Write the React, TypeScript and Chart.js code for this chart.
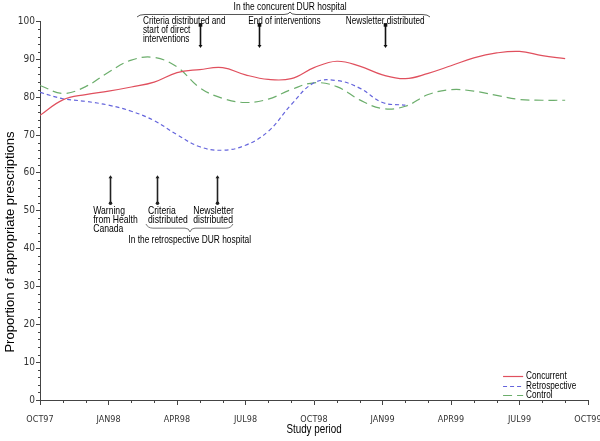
import React, { useEffect, useRef } from "react";
import { Chart, registerables } from "chart.js";

Chart.register(...registerables);

// Study months: 0 = OCT97 ... 24 = OCT99
const TICK_LABELS = ["OCT97", "JAN98", "APR98", "JUL98", "OCT98", "JAN99", "APR99", "JUL99", "OCT99"];
const SERIES_NAMES = ["Concurrent", "Retrospective", "Control"];
const CONCURRENT = [75.2, 79.3, 80.7, 81.6, 82.7, 84.0, 86.5, 87.3, 87.8, 85.9, 84.7, 84.9, 87.8, 89.5, 88.2, 85.9, 84.9, 86.3, 88.3, 90.4, 91.7, 92.1, 91.0, 90.2];
const RETROSPECTIVE = [81.3, 79.6, 78.9, 77.9, 76.3, 73.8, 70.1, 66.9, 66.0, 67.3, 71.0, 78.0, 83.8, 84.4, 82.4, 78.6, 77.9];
const CONTROL = [83.1, 81.0, 82.8, 86.6, 89.8, 90.5, 88.0, 82.5, 79.7, 78.6, 79.5, 82.0, 83.8, 82.8, 79.3, 77.0, 77.6, 80.7, 82.0, 81.6, 80.5, 79.4, 79.2, 79.2];

const Y_TITLE = "Proportion of appropriate prescriptions";
const X_TITLE = "Study period";

// Event annotations (positions in study months / axis values)
const TOP_GROUP = { label: "In the concurent DUR hospital", from: 4.25, to: 17.08, mid: 10.95 };
const TOP_EVENTS = [
  { arrow: 7.01, textAt: 4.51, lines: ["Criteria distributed and", "start of direct", "interventions"] },
  { arrow: 9.59, textAt: 9.12, lines: ["End of interventions"] },
  { arrow: 15.12, textAt: 13.39, lines: ["Newsletter distributed"] },
];
const BOTTOM_GROUP = { label: "In the retrospective DUR hospital", from: 4.64, to: 8.45, mid: 6.57, textAt: 3.87 };
const BOTTOM_EVENTS = [
  { arrow: 3.07, textAt: 2.33, lines: ["Warning", "from Health", "Canada"] },
  { arrow: 5.11, textAt: 4.73, lines: ["Criteria", "distributed"] },
  { arrow: 7.74, textAt: 6.71, lines: ["Newsletter", "distributed"] },
];

const COLORS = ["#e0505e", "#6464dc", "#6cae6c"];
const DASHES = [[], [4, 3], [9, 5]];
const AXIS_COLOR = "#444";
const FONT = '"Liberation Sans", Arial, sans-serif';
const TICK_FONT = '"Liberation Sans Narrow", "DejaVu Sans Condensed", "Liberation Sans", sans-serif';

function drawText(ctx: CanvasRenderingContext2D, s: string, x: number, y: number, size: number, align: CanvasTextAlign = "left", squeeze = 0.82) {
  ctx.font = `${size}px ${FONT}`;
  const w = ctx.measureText(s).width * squeeze;
  ctx.textAlign = align;
  ctx.textBaseline = "middle";
  ctx.fillText(s, x, y, w);
}

function seg(ctx: CanvasRenderingContext2D, x1: number, y1: number, x2: number, y2: number) {
  ctx.beginPath();
  ctx.moveTo(x1, y1);
  ctx.lineTo(x2, y2);
  ctx.stroke();
}

const decorPlugin = {
  id: "decor",
  afterDraw(chart: any) {
    const { ctx, chartArea: ca } = chart;
    const xs = chart.scales.x;
    const ys = chart.scales.y;
    const px = (m: number) => xs.getPixelForValue(m);
    const py = (v: number) => ys.getPixelForValue(v);
    ctx.save();

    // minor ticks
    ctx.strokeStyle = AXIS_COLOR;
    ctx.lineWidth = 1;
    ctx.setLineDash([]);
    for (let v = 0; v <= 100; v += 2) {
      if (v % 10 === 0) continue;
      const y = Math.round(py(v)) + 0.5;
      seg(ctx, ca.left - 2, y, ca.left, y);
    }
    for (let m = 0; m <= 24; m++) {
      if (m % 3 === 0) continue;
      const x = Math.round(px(m)) + 0.5;
      seg(ctx, x, ca.bottom, x, ca.bottom + 3);
    }

    // axis titles
    ctx.fillStyle = "#000";
    ctx.save();
    ctx.translate(10, 242);
    ctx.rotate(-Math.PI / 2);
    ctx.font = `13px ${FONT}`;
    ctx.textAlign = "center";
    ctx.textBaseline = "middle";
    ctx.fillText(Y_TITLE, 0, 0, 239);
    ctx.restore();
    drawText(ctx, X_TITLE, (ca.left + ca.right) / 2, 430, 12, "center", 0.82);

    // top group
    ctx.fillStyle = "#000";
    drawText(ctx, TOP_GROUP.label, px(TOP_GROUP.mid), py(103.8), 11, "center", 0.77);
    ctx.strokeStyle = "#555";
    ctx.lineWidth = 1;
    {
      const a = px(TOP_GROUP.from), b = px(TOP_GROUP.to), c = px(TOP_GROUP.mid);
      const yl = py(101.85), ye = py(101.2), yc = py(102.5);
      ctx.beginPath();
      ctx.moveTo(a, ye);
      ctx.quadraticCurveTo(a + 2, yl, a + 8, yl);
      ctx.lineTo(c - 6, yl);
      ctx.quadraticCurveTo(c - 1, yl, c, yc);
      ctx.quadraticCurveTo(c + 1, yl, c + 6, yl);
      ctx.lineTo(b - 8, yl);
      ctx.quadraticCurveTo(b - 2, yl, b, ye);
      ctx.stroke();
    }
    const lineVals = [100.1, 97.7, 95.4];
    for (const ev of TOP_EVENTS) {
      ctx.fillStyle = "#000";
      ev.lines.forEach((s, i) => drawText(ctx, s, px(ev.textAt), py(lineVals[i]), 10, "left", 0.82));
      const x = Math.round(px(ev.arrow)) + 0.5;
      const yt = py(99.1), yb = py(93.0);
      ctx.strokeStyle = "#111";
      ctx.fillStyle = "#111";
      ctx.lineWidth = 1.6;
      seg(ctx, x, yt, x, yb - 2);
      ctx.fillRect(x - 1.8, yt - 1.8, 3.6, 3.6);
      ctx.beginPath();
      ctx.moveTo(x - 2, yb - 3);
      ctx.lineTo(x + 2, yb - 3);
      ctx.lineTo(x, yb);
      ctx.closePath();
      ctx.fill();
    }

    // bottom group
    const bVals = [49.9, 47.6, 45.2];
    for (const ev of BOTTOM_EVENTS) {
      ctx.fillStyle = "#000";
      ev.lines.forEach((s, i) => drawText(ctx, s, px(ev.textAt), py(bVals[i]), 10.5, "left", 0.82));
      const x = Math.round(px(ev.arrow)) + 0.5;
      const yt = py(59.4), yb = py(52.0);
      ctx.strokeStyle = "#222";
      ctx.fillStyle = "#222";
      ctx.lineWidth = 1.6;
      seg(ctx, x, yt + 2, x, yb);
      ctx.beginPath();
      ctx.moveTo(x - 2, yt + 3);
      ctx.lineTo(x + 2, yt + 3);
      ctx.lineTo(x, yt);
      ctx.closePath();
      ctx.fill();
      ctx.beginPath();
      ctx.arc(x, yb, 1.8, 0, Math.PI * 2);
      ctx.fill();
    }
    ctx.strokeStyle = "#777";
    ctx.lineWidth = 1;
    {
      const a = px(BOTTOM_GROUP.from), b = px(BOTTOM_GROUP.to), c = px(BOTTOM_GROUP.mid);
      const ye = py(46.5), yl = py(45.4), yc = py(44.4);
      ctx.beginPath();
      ctx.moveTo(a, ye);
      ctx.quadraticCurveTo(a + 2, yl, a + 7, yl);
      ctx.lineTo(c - 5, yl);
      ctx.quadraticCurveTo(c - 1, yl, c, yc);
      ctx.quadraticCurveTo(c + 1, yl, c + 5, yl);
      ctx.lineTo(b - 7, yl);
      ctx.quadraticCurveTo(b - 2, yl, b, ye);
      ctx.stroke();
    }
    ctx.fillStyle = "#000";
    drawText(ctx, BOTTOM_GROUP.label, px(BOTTOM_GROUP.textAt), py(42.3), 11, "left", 0.76);

    // legend
    const legY = [6.3, 3.7, 1.25];
    chart.data.datasets.forEach((ds: any, i: number) => {
      const y = Math.round(py(legY[i])) + 0.5;
      ctx.strokeStyle = ds.borderColor;
      ctx.lineWidth = 1.2;
      ctx.setLineDash(ds.borderDash || []);
      seg(ctx, px(20.28), y, px(21.16), y);
      ctx.setLineDash([]);
      ctx.fillStyle = "#000";
      drawText(ctx, ds.label, px(21.29), y, 10, "left", 0.82);
    });

    ctx.restore();
  },
};

export default function App() {
  const ref = useRef<HTMLCanvasElement | null>(null);

  useEffect(() => {
    document.body.style.margin = "0";
    const canvas = ref.current;
    if (!canvas) return;
    const seriesValues = [CONCURRENT, RETROSPECTIVE, CONTROL];
    const chart = new Chart(canvas, {
      type: "line",
      data: {
        datasets: seriesValues.map((vals, i) => ({
          label: SERIES_NAMES[i],
          data: vals.map((v, m) => ({ x: m, y: v })),
          borderColor: COLORS[i],
          borderWidth: 1.2,
          borderDash: DASHES[i],
          pointRadius: 0,
          tension: 0.4,
          fill: false,
        })),
      },
      options: {
        responsive: false,
        animation: false,
        events: [],
        layout: { padding: { top: 21.5, right: 12, bottom: 0, left: 0 } },
        plugins: { legend: { display: false }, tooltip: { enabled: false } },
        scales: {
          x: {
            type: "linear",
            min: 0,
            max: 24,
            afterFit: (s: any) => {
              s.height = 41;
              s.paddingLeft = 0;
              s.paddingRight = 0;
            },
            ticks: {
              stepSize: 3,
              autoSkip: false,
              maxRotation: 0,
              padding: 9,
              color: "#333",
              font: { family: TICK_FONT, size: 9 },
              callback: (v: any) => TICK_LABELS[Math.round(Number(v) / 3)] ?? "",
            },
            grid: { drawOnChartArea: false, tickLength: 5, color: AXIS_COLOR },
            border: { display: true, color: AXIS_COLOR, width: 1 },
          },
          y: {
            min: 0,
            max: 100,
            afterFit: (s: any) => {
              s.width = 40;
              s.paddingTop = 0;
              s.paddingBottom = 0;
            },
            ticks: {
              stepSize: 10,
              padding: 1,
              color: "#333",
              font: { family: TICK_FONT, size: 10 },
            },
            grid: { drawOnChartArea: false, tickLength: 4, color: AXIS_COLOR },
            border: { display: true, color: AXIS_COLOR, width: 1 },
          },
        },
      },
      plugins: [decorPlugin],
    } as any);
    return () => chart.destroy();
  }, []);

  return (
    <div style={{ width: 600, height: 441, background: "#fff" }}>
      <canvas ref={ref} width={600} height={441} />
    </div>
  );
}
